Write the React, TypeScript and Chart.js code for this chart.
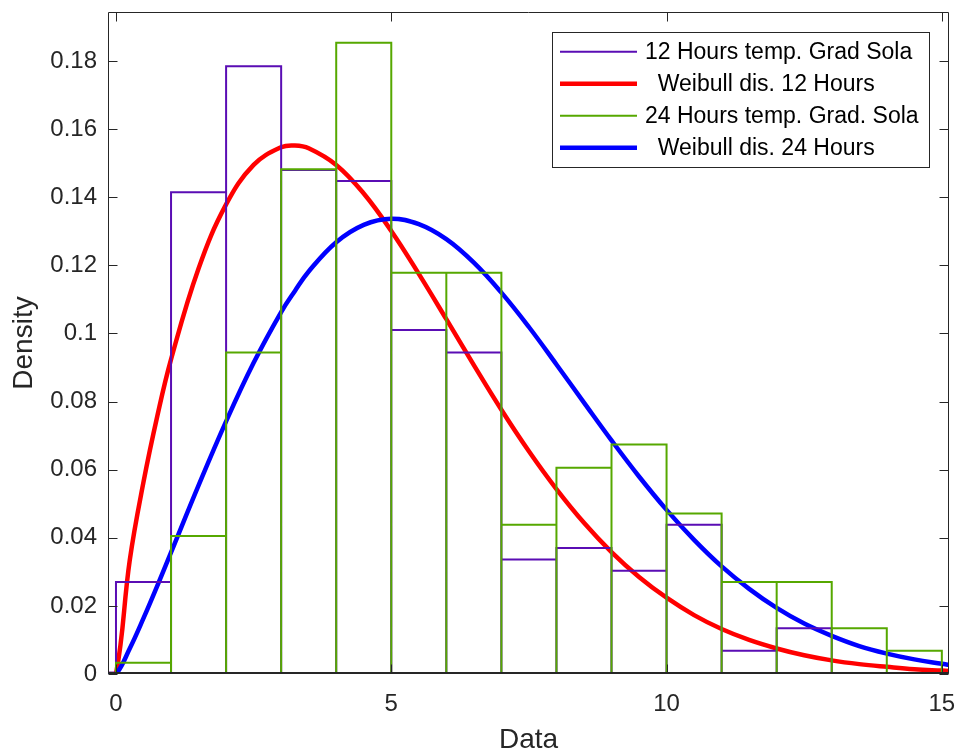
import React, { useEffect, useRef } from 'react';
import { Chart, registerables } from 'chart.js';

Chart.register(...registerables);

const FONT = "'Liberation Sans', Arial, Helvetica, sans-serif";

// Axis limits and tick values
const X_MIN = -0.145;
const X_MAX = 15.13;
const Y_MIN = 0;
const Y_MAX = 0.1944;
const xTicks = [0, 5, 10, 15];
const yTicks = [0, 0.02, 0.04, 0.06, 0.08, 0.1, 0.12, 0.14, 0.16, 0.18];

// Histogram: 12 hours (bin edges and densities)
const binEdges12 = [0, 1, 2, 3, 4, 5, 6, 7, 8, 9, 10, 11, 12, 13];
const density12 = [0.027, 0.1415, 0.1785, 0.148, 0.1448, 0.101, 0.0944, 0.0336, 0.037, 0.0303, 0.0438, 0.0068, 0.0134];

// Histogram: 24 hours
const binEdges24 = [0, 1, 2, 3, 4, 5, 6, 7, 8, 9, 10, 11, 12, 13, 14, 15];
const density24 = [0.0033, 0.0405, 0.0944, 0.1482, 0.1854, 0.1178, 0.1178, 0.0438, 0.0606, 0.0674, 0.0471, 0.027, 0.027, 0.0134, 0.0068];

// Fitted curves
const curveX = [-0.145, 0, 0.25, 0.5, 0.75, 1, 1.5, 2, 2.5, 3, 3.25, 3.5, 4, 4.5, 5, 5.5, 6, 6.5, 7, 7.5, 8, 8.5, 9, 9.5, 10, 10.5, 11, 11.5, 12, 12.5, 13, 13.5, 14, 14.5, 15, 15.13];
const weibull12 = [0, 0, 0.0334, 0.0564, 0.0757, 0.0924, 0.1191, 0.1379, 0.1495, 0.1547, 0.1552, 0.1544, 0.1495, 0.1411, 0.1301, 0.1175, 0.1042, 0.0907, 0.0776, 0.0654, 0.0543, 0.0444, 0.0358, 0.0285, 0.0224, 0.0173, 0.0132, 0.01, 0.0075, 0.0055, 0.004, 0.0029, 0.0021, 0.0014, 0.001, 0.0009];
const weibull24 = [0, 0, 0.0075, 0.0164, 0.0259, 0.0357, 0.0554, 0.0742, 0.0914, 0.1063, 0.1125, 0.1182, 0.1268, 0.1319, 0.1337, 0.1321, 0.1277, 0.1208, 0.112, 0.1019, 0.0909, 0.0797, 0.0686, 0.058, 0.0482, 0.0394, 0.0316, 0.025, 0.0194, 0.0148, 0.0112, 0.0082, 0.006, 0.0043, 0.003, 0.0027];

const labels = ['12 Hours temp. Grad Sola', '  Weibull dis. 12 Hours', '24 Hours temp. Grad. Sola', '  Weibull dis. 24 Hours'];

const PURPLE = '#5a0db4';
const RED = '#ff0000';
const GREEN = '#56a800';
const BLUE = '#0000ff';
const AXIS = '#262626';

function histOutline(edges: number[], heights: number[]) {
  const pts: { x: number; y: number }[] = [];
  heights.forEach((h, i) => {
    pts.push({ x: edges[i], y: 0 });
    pts.push({ x: edges[i], y: h });
    pts.push({ x: edges[i + 1], y: h });
    pts.push({ x: edges[i + 1], y: 0 });
  });
  return pts;
}

function curvePoints(xs: number[], ys: number[]) {
  return xs.map((x, i) => ({ x, y: ys[i] }));
}

const boxPlugin = {
  id: 'matlabBox',
  afterDatasetsDraw(chart: any) {
    const { ctx, chartArea, scales } = chart;
    const { left, right, top, bottom } = chartArea;
    ctx.save();
    ctx.strokeStyle = AXIS;
    ctx.lineWidth = 1;
    const L = Math.round(left) + 0.5;
    const R = Math.round(right) - 0.5;
    const T = Math.round(top) + 0.5;
    const B = Math.round(bottom) - 0.5;
    ctx.beginPath();
    ctx.rect(L, T, R - L, B - T);
    ctx.stroke();
    const tl = 9;
    ctx.beginPath();
    xTicks.forEach((v) => {
      const px = Math.round(scales.x.getPixelForValue(v)) + 0.5;
      ctx.moveTo(px, B);
      ctx.lineTo(px, B - tl);
      ctx.moveTo(px, T);
      ctx.lineTo(px, T + tl);
    });
    yTicks.forEach((v) => {
      const py = Math.round(scales.y.getPixelForValue(v)) + 0.5;
      ctx.moveTo(L, py);
      ctx.lineTo(L + tl, py);
      ctx.moveTo(R, py);
      ctx.lineTo(R - tl, py);
    });
    ctx.stroke();
    // slightly heavier baseline like the reference
    ctx.lineWidth = 2;
    ctx.beginPath();
    ctx.moveTo(L, Math.round(bottom) - 1);
    ctx.lineTo(R, Math.round(bottom) - 1);
    ctx.stroke();
    ctx.restore();
  },
};

const legendPlugin = {
  id: 'boxLegend',
  afterDraw(chart: any) {
    const ctx = chart.ctx;
    ctx.save();
    const x0 = 552, y0 = 32, x1 = 929, y1 = 167;
    ctx.fillStyle = '#ffffff';
    ctx.fillRect(x0, y0, x1 - x0, y1 - y0);
    ctx.strokeStyle = AXIS;
    ctx.lineWidth = 1;
    ctx.strokeRect(x0 + 0.5, y0 + 0.5, x1 - x0, y1 - y0);
    ctx.font = `23px ${FONT}`;
    ctx.textBaseline = 'middle';
    ctx.textAlign = 'left';
    chart.data.datasets.forEach((ds: any, i: number) => {
      const y = 51.7 + i * 32;
      ctx.strokeStyle = ds.borderColor;
      ctx.lineWidth = ds.borderWidth;
      ctx.beginPath();
      ctx.moveTo(560, y);
      ctx.lineTo(637, y);
      ctx.stroke();
      const label: string = ds.label;
      const trimmed = label.trimStart();
      const lead = ctx.measureText(label.slice(0, label.length - trimmed.length)).width;
      ctx.fillStyle = '#000000';
      ctx.fillText(trimmed, 645 + lead, y + 1.2);
    });
    ctx.restore();
  },
};

export default function App() {
  const canvasRef = useRef<HTMLCanvasElement | null>(null);

  useEffect(() => {
    document.body.style.margin = '0';
    const canvas = canvasRef.current;
    if (!canvas) return;
    const chart = new Chart(canvas, {
      type: 'line',
      data: {
        datasets: [
          {
            label: labels[0],
            data: histOutline(binEdges12, density12),
            borderColor: PURPLE,
            borderWidth: 2,
            pointRadius: 0,
            tension: 0,
            fill: false,
            borderJoinStyle: 'miter',
            order: 1,
          },
          {
            label: labels[1],
            data: curvePoints(curveX, weibull12),
            borderColor: RED,
            borderWidth: 4.5,
            pointRadius: 0,
            tension: 0.4,
            fill: false,
            order: 3,
          },
          {
            label: labels[2],
            data: histOutline(binEdges24, density24),
            borderColor: GREEN,
            borderWidth: 2,
            pointRadius: 0,
            tension: 0,
            fill: false,
            borderJoinStyle: 'miter',
            order: 0,
          },
          {
            label: labels[3],
            data: curvePoints(curveX, weibull24),
            borderColor: BLUE,
            borderWidth: 4.5,
            pointRadius: 0,
            tension: 0.4,
            fill: false,
            order: 2,
          },
        ] as any,
      },
      options: {
        animation: false,
        responsive: false,
        devicePixelRatio: 1,
        events: [],
        layout: { padding: { left: 0, right: 7, top: 12, bottom: 0 } },
        plugins: {
          legend: { display: false },
          tooltip: { enabled: false },
          title: { display: false },
        },
        scales: {
          x: {
            type: 'linear',
            min: X_MIN,
            max: X_MAX,
            afterBuildTicks: (s: any) => {
              s.ticks = xTicks.map((v) => ({ value: v }));
            },
            afterFit: (s: any) => {
              s.height = 81;
              s.paddingLeft = 0;
              s.paddingRight = 0;
            },
            grid: { display: false, drawTicks: false },
            border: { display: false },
            ticks: {
              padding: 16,
              autoSkip: false,
              maxRotation: 0,
              color: AXIS,
              font: { family: FONT, size: 24 },
              callback: (v: any) => String(v),
            },
            title: {
              display: true,
              text: 'Data',
              color: AXIS,
              font: { family: FONT, size: 28, lineHeight: 1 },
              padding: { top: 0, bottom: 1 },
            },
          },
          y: {
            type: 'linear',
            min: Y_MIN,
            max: Y_MAX,
            afterBuildTicks: (s: any) => {
              s.ticks = yTicks.map((v) => ({ value: v }));
            },
            afterFit: (s: any) => {
              s.width = 108;
              s.paddingTop = 0;
              s.paddingBottom = 0;
            },
            grid: { display: false, drawTicks: false },
            border: { display: false },
            ticks: {
              padding: 11,
              autoSkip: false,
              color: AXIS,
              font: { family: FONT, size: 24 },
              callback: (v: any) => String(Number(Number(v).toFixed(2))),
            },
            title: {
              display: true,
              text: 'Density',
              color: AXIS,
              font: { family: FONT, size: 28, lineHeight: 1 },
              padding: { top: 10, bottom: 0 },
            },
          },
        },
      } as any,
      plugins: [boxPlugin, legendPlugin],
    });
    return () => {
      chart.destroy();
    };
  }, []);

  return (
    <div style={{ width: 956, height: 755, background: '#ffffff' }}>
      <canvas ref={canvasRef} width={956} height={755} style={{ display: 'block' }} />
    </div>
  );
}
